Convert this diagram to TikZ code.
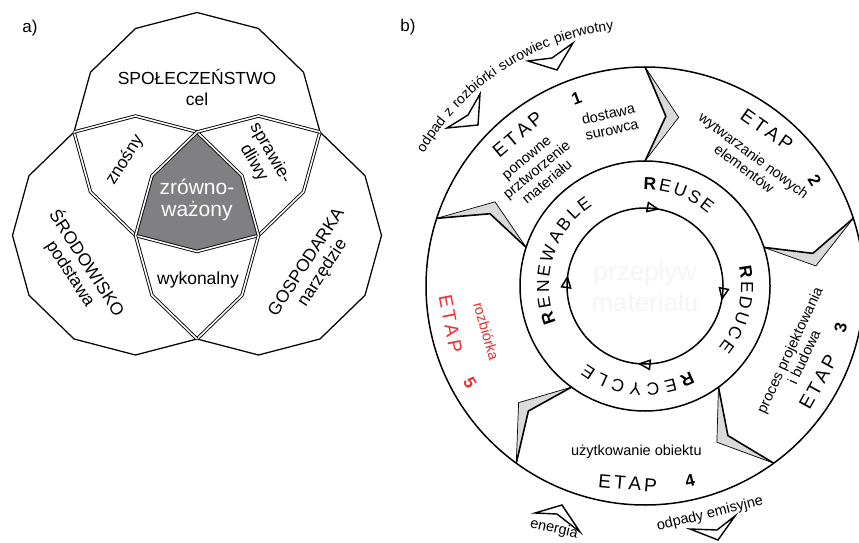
\documentclass[tikz,border=0pt]{standalone}
\usepackage{fontspec}
\setmainfont{Liberation Sans}
\usetikzlibrary{arrows.meta,calc,decorations.markings,decorations.text}
\definecolor{zgray}{RGB}{128,128,130}
\definecolor{chgray}{RGB}{218,218,218}
\definecolor{etred}{RGB}{238,45,45}
\definecolor{faint}{RGB}{245,245,245}
\tikzstyle{lbl}=[inner sep=0pt, align=center, font=\fontsize{17.5}{19}\selectfont]
\tikzstyle{sub}=[inner sep=0pt, align=center, font=\fontsize{14.5}{16}\selectfont]
\tikzstyle{etap}=[inner sep=0pt, font=\fontsize{19}{20}\selectfont]
\tikzstyle{num}=[inner sep=0pt, font=\fontsize{17}{18}\selectfont\bfseries]
\tikzstyle{dbl}=[double, double distance=1.6pt, line width=0.9pt]
\tikzstyle{hollow}=[line width=1.4pt, fill=white]
\newcommand{\dodeca}[1]{($(#1)+(0:123 and 119.5)$) \foreach \k in {1,...,11}{ -- ($(#1)+(\k*30:123 and 119.5)$)} -- cycle}
\newcommand{\etapword}{E\kern3pt T\kern3pt A\kern3pt P}
\newcommand{\ringfont}{\fontsize{17.5}{18}\selectfont}
\newcommand{\cyctip}{\arrow[line width=1.5pt]{Triangle[open,length=13pt,width=11pt]}}

\begin{document}
\begin{tikzpicture}[x=1pt, y=1pt, line width=1.25pt]
\useasboundingbox (0,0) rectangle (859,542);
% a) three areas
\coordinate (A) at (197,410);
\coordinate (B) at (135.5,306.5);
\coordinate (C) at (258.5,306.5);
\begin{scope}
\clip \dodeca{A};
\clip \dodeca{B};
\fill[zgray] \dodeca{C};
\end{scope}
\draw \dodeca{A};
\draw \dodeca{B};
\draw \dodeca{C};
\begin{scope}
\clip \dodeca{B} \dodeca{C};
\draw[dbl] \dodeca{A};
\end{scope}
\begin{scope}
\clip \dodeca{A} \dodeca{C};
\draw[dbl] \dodeca{B};
\end{scope}
\begin{scope}
\clip \dodeca{A} \dodeca{B};
\draw[dbl] \dodeca{C};
\end{scope}
\node[lbl, font=\fontsize{17}{18}\selectfont] (pa) at (30,514) {a)};
\node[lbl] (spol) at (197,465) {SPOŁECZEŃSTWO};
\node[lbl] (cel) at (197,443) {cel};
\node[lbl, rotate=58] (znosny) at (125,382) {znośny};
\node[lbl, rotate=-60] (spraw) at (262,384) {sprawie-\\dliwy};
\node[lbl, white, font=\fontsize{21}{22}\selectfont] (zrown) at (197,342) {zrówno-\\ważony};
\node[lbl] (wyk) at (198,262) {wykonalny};
\node[lbl, rotate=-57] (srod) at (79,274) {ŚRODOWISKO\\podstawa};
\node[lbl, rotate=57] (gosp) at (315,274) {GOSPODARKA\\narzędzie};

% b) cycle
\node[lbl, font=\fontsize{17}{18}\selectfont] (pb) at (408,515) {b)};
\coordinate (O) at (645,256);
\node[faint, align=center, font=\fontsize{26}{31}\selectfont] (flow) at (645,255) {przepływ\\materiału};
\draw[line width=1.5pt] (O) circle[radius=219];
\draw[line width=1.5pt] (O) circle[radius=125];
\foreach \a in {90,18,-54,-126,162}{
  \fill[chgray] ($(O)+(\a:219)$) -- ($(O)+(\a-11.3:172)$) -- ($(O)+(\a:125)$) -- ($(O)+(\a-7:171)$) -- cycle;
  \draw[line width=0.7pt] ($(O)+(\a:219)$) -- ($(O)+(\a-11.3:172)$) -- ($(O)+(\a:125)$);
  \draw[line width=1.6pt] ($(O)+(\a:219)$) -- ($(O)+(\a-7:171)$) -- ($(O)+(\a:125)$);
}
\draw[line width=1.5pt, postaction={decorate}, decoration={markings,
  mark=at position 0.03 with {\cyctip},
  mark=at position 0.28 with {\cyctip},
  mark=at position 0.515 with {\cyctip},
  mark=at position 0.772 with {\cyctip}}]
  ($(O)+(90:78)$) arc[start angle=90, end angle=-270, radius=78];
% ring words
\path[decorate, decoration={text along path, text align={fit to path},
  text={|\ringfont\bfseries|R|\ringfont\mdseries|EUSE}}]
  ($(O)+(91:96)$) arc[start angle=91, end angle=49, radius=96];
\path[decorate, decoration={text along path, text align={fit to path},
  text={|\ringfont\bfseries|R|\ringfont\mdseries|EDUCE}}]
  ($(O)+(12:96)$) arc[start angle=12, end angle=-40, radius=96];
\path[decorate, decoration={text along path, text align={fit to path},
  text={|\ringfont\bfseries|R|\ringfont\mdseries|ECYCLE}}]
  ($(O)+(-62:97)$) arc[start angle=-62, end angle=-127, radius=97];
\path[decorate, decoration={text along path, text align={fit to path},
  text={|\ringfont\bfseries|R|\ringfont\mdseries|ENEWABLE}}]
  ($(O)+(202:96)$) arc[start angle=202, end angle=123, radius=96];
% stages
\node[etap, rotate=40] (e1) at ($(O)+(130:198)$) {\etapword};
\node[etap, rotate=-35] (e2) at ($(O)+(52:198)$) {\etapword};
\node[etap, rotate=61] (e3) at ($(O)+(-29:198)$) {\etapword};
\node[etap, rotate=-5] (e4) at ($(O)+(-95:198)$) {\etapword};
\node[etap, etred, rotate=-79] (e5) at ($(O)+(-169:198)$) {\etapword};
\node[num, rotate=20] (n1) at ($(O)+(110:200)$) {1};
\node[num, rotate=-58] (n2) at ($(O)+(32:200)$) {2};
\node[num, rotate=78] (n3) at ($(O)+(-12:200)$) {3};
\node[num, rotate=13] (n4) at ($(O)+(-77:200)$) {4};
\node[num, etred, rotate=-61] (n5) at ($(O)+(-151:200)$) {5};
\node[sub, rotate=40] (s1) at ($(O)+(133:158)$) {ponowne\\prztworzenie\\materiału};
\node[sub, rotate=13] (dost) at ($(O)+(102:168)$) {dostawa\\surowca};
\node[sub, rotate=-37] (s2) at ($(O)+(50:162)$) {wytwarzanie nowych\\elementów};
\node[sub, rotate=65] (s3) at ($(O)+(-24:166)$) {proces projektowania\\i budowa};
\node[sub] (s4) at ($(O)+(-93:166)$) {użytkowanie obiektu};
\node[sub, etred, rotate=-74] (s5) at ($(O)+(-164:165)$) {rozbiórka};
% flows outside
\path[decorate, decoration={text along path, text align={fit to path stretching spaces},
  text={|\fontsize{14}{15}\selectfont|odpad z rozbiórki surowiec pierwotny}}]
  ($(O)+(149:258)$) arc[start angle=149, end angle=97, radius=258];
\node[sub, rotate=14] (emis) at (710,28) {odpady emisyjne};
\node[sub, rotate=-13] (ener) at (554,13) {energia};
\draw[hollow] (480,448) -- (468,427) -- (447,414) -- (478,417) -- cycle;
\draw[hollow] (528,481) -- (552,484) -- (573,499) -- (557,472) -- cycle;
\draw[hollow] (535,29) -- (562,37) -- (580,10) -- (557,28) -- cycle;
\draw[hollow] (690,13) -- (717,12) -- (735,26) -- (718,2) -- cycle;
\end{tikzpicture}
\end{document}
